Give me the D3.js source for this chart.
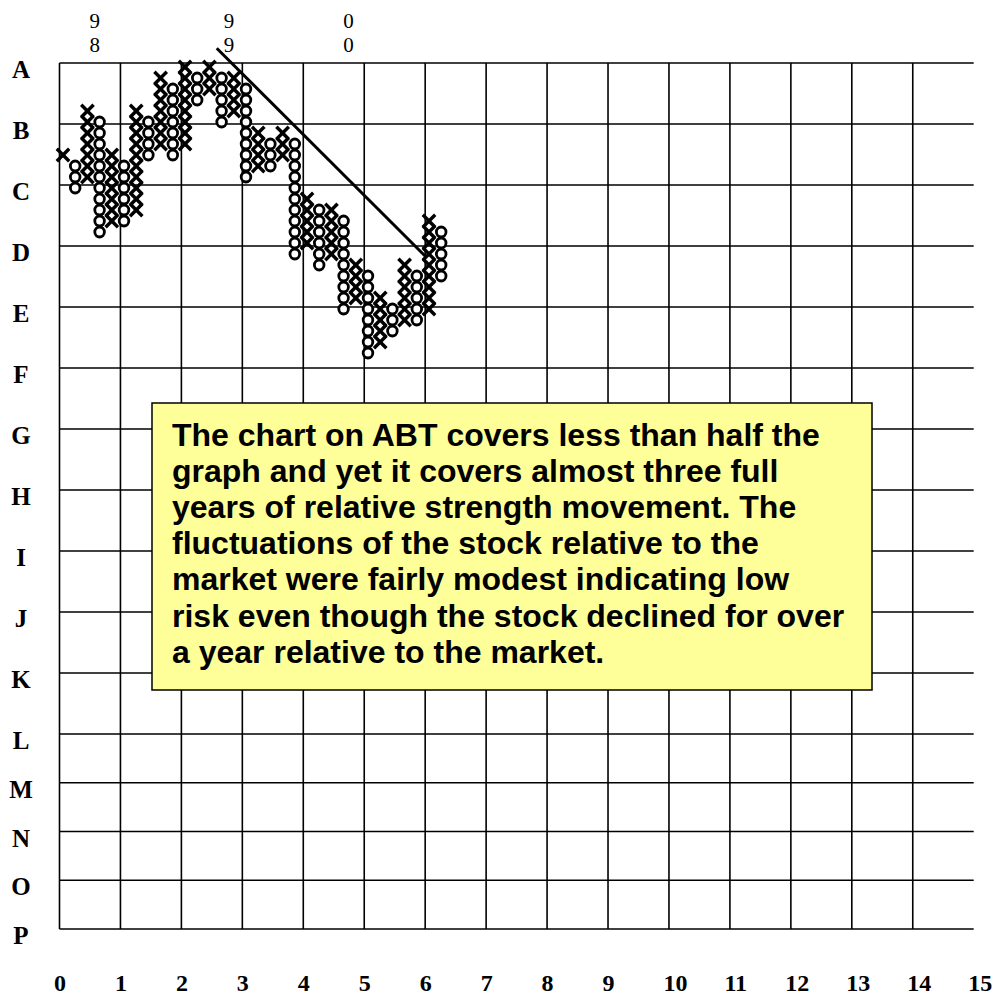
<!DOCTYPE html>
<html><head><meta charset="utf-8">
<script src="https://cdn.jsdelivr.net/npm/d3@7"></script>
<style>html,body{margin:0;padding:0;background:#fff;}svg{display:block;}</style>
</head><body>
<svg id="chart" width="1003" height="998"></svg>
<script>
// ---- data ----
const rowLabels = ["A","B","C","D","E","F","G","H","I","J","K","L","M","N","O","P"];
const colLabels = ["0","1","2","3","4","5","6","7","8","9","10","11","12","13","14","15"];
// point & figure columns (box levels)
const colType = ["X","O","X","O","X","O","X","O","X","O","X","O","X","O","X","O",
                 "X","O","X","O","X","O","X","O","X","O","X","O","X","O","X","O"];
const colLow  = [18,15,16,11,12,12,13,18,19,18,19,23,24,21,22,16,17,17,18, 9,10, 8, 9, 4, 5, 0, 1, 2, 3, 3, 4, 7];
const colHigh = [18,17,22,21,18,17,22,21,25,24,26,25,26,25,25,24,20,19,20,19,14,13,13,12, 8, 7, 5, 4, 8, 7,12,11];
const yearLabels = ["98","99","00"];
const yearCols = [2.6, 13.6, 23.4];
const trendCols = [12.6, 29.7];
const trendLevels = [27.7, 8.8];
const note = ["The chart on ABT covers less than half the",
  "graph and yet it covers almost three full",
  "years of relative strength movement. The",
  "fluctuations of the stock relative to the",
  "market were fairly modest indicating low",
  "risk even though the stock declined for over",
  "a year relative to the market."];

// ---- scales ----
const svg = d3.select("#chart");
const gx = d3.scaleLinear().domain([0, 15]).range([59.5, 973.7]);
const gy = d3.scaleLinear().domain([0, 11, 15]).range([63, 734, 929]);
const cx = d3.scaleLinear().domain([0, 31]).range([63, 441.2]);
const ly = d3.scaleLinear().domain([0, 26]).range([353, 67]);

// ---- grid ----
const grid = svg.append("g").attr("stroke", "#000").attr("stroke-width", 1.6);
grid.selectAll("line.h").data(rowLabels).join("line").attr("class","h")
  .attr("x1", gx(0)).attr("x2", gx(15)).attr("y1", (d,i)=>gy(i)).attr("y2", (d,i)=>gy(i));
grid.selectAll("line.v").data(colLabels.slice(0,15)).join("line").attr("class","v")
  .attr("x1", (d,i)=>gx(i)).attr("x2", (d,i)=>gx(i)).attr("y1", gy(0)).attr("y2", gy(15));

// row labels
svg.append("g").selectAll("text").data(rowLabels).join("text")
  .attr("x", 21).attr("y", (d,i)=>gy(i)+15)
  .attr("text-anchor","middle")
  .attr("font-family","'Liberation Serif','DejaVu Serif',serif")
  .attr("font-weight","bold").attr("font-size", 25)
  .text(d=>d);

// column labels
svg.append("g").selectAll("text").data(colLabels).join("text")
  .attr("x", (d,i)=>gx(i)-5.5).attr("y", 991)
  .attr("font-family","'Liberation Serif','DejaVu Serif',serif")
  .attr("font-weight","bold").attr("font-size", 24)
  .text(d=>d);

// year labels (stacked digits)
const yl = svg.append("g").attr("font-family","'Liberation Serif','DejaVu Serif',serif")
  .attr("font-size", 21).attr("text-anchor","middle");
yearLabels.forEach((s,i)=>{
  yl.append("text").attr("x", cx(yearCols[i])).attr("y", 28).text(s[0]);
  yl.append("text").attr("x", cx(yearCols[i])).attr("y", 52).text(s[1]);
});

// ---- P&F marks ----
const boxes = [];
colType.forEach((t,i)=>{
  for (let v = colLow[i]; v <= colHigh[i]; v++) boxes.push({t, c:i, v});
});
const pf = svg.append("g");
const hx = 6.2, hy = 6.2;
const xs = pf.selectAll("g.x").data(boxes.filter(b=>b.t==="X")).join("g")
  .attr("transform", b=>`translate(${cx(b.c)},${ly(b.v)})`)
  .attr("stroke","#000").attr("stroke-width",3.4).attr("stroke-linecap","butt");
xs.append("line").attr("x1",-hx).attr("y1",-hy).attr("x2",hx).attr("y2",hy);
xs.append("line").attr("x1",-hx).attr("y1",hy).attr("x2",hx).attr("y2",-hy);
pf.selectAll("ellipse").data(boxes.filter(b=>b.t==="O")).join("ellipse")
  .attr("cx", b=>cx(b.c)).attr("cy", b=>ly(b.v))
  .attr("rx", 4.8).attr("ry", 5.0)
  .attr("fill","#fff").attr("stroke","#000").attr("stroke-width",2.8);

// trend line
svg.append("line")
  .attr("x1", cx(trendCols[0])).attr("y1", ly(trendLevels[0]))
  .attr("x2", cx(trendCols[1])).attr("y2", ly(trendLevels[1]))
  .attr("stroke","#000").attr("stroke-width",3);

// ---- note box ----
svg.append("rect").attr("x",152).attr("y",403).attr("width",720).attr("height",287)
  .attr("fill","#ffff99").attr("stroke","#000").attr("stroke-width",1.5);
svg.append("g").selectAll("text").data(note).join("text")
  .attr("x",172).attr("y",(d,i)=>446 + i*36.1)
  .attr("font-family","'Liberation Sans',Arial,sans-serif")
  .attr("font-weight","bold").attr("font-size",32)
  .text(d=>d);
</script>
</body></html>
